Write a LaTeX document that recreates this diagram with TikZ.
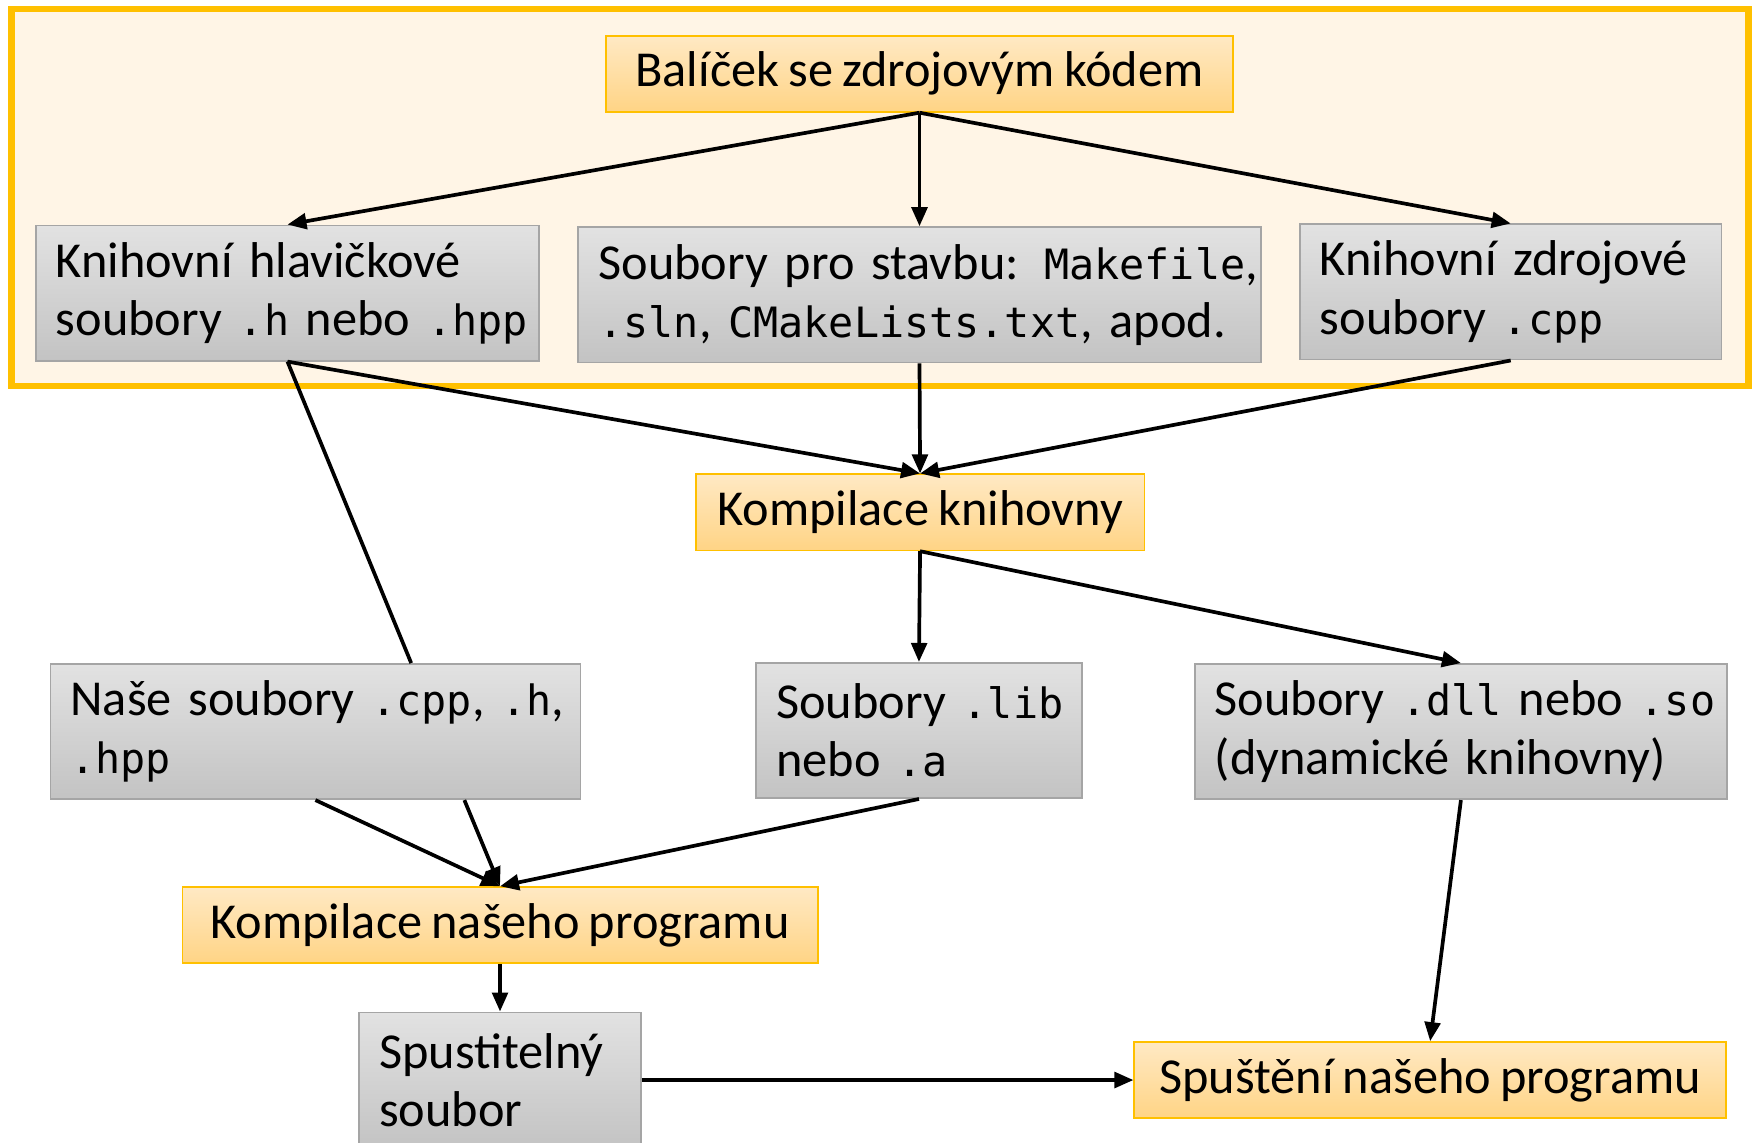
\documentclass[tikz,border=0pt]{standalone}
\usepackage{fontspec}
\setmainfont{Carlito}[WordSpace=0.8]
\setmonofont{DejaVu Sans Mono}[Scale=0.83]
\usepackage{tikz}
\usetikzlibrary{arrows.meta}
\usetikzlibrary{calc}
\definecolor{frameorange}{HTML}{FFC000}
\definecolor{framefill}{HTML}{FFF5E6}
\definecolor{orangetop}{HTML}{FFE9C4}
\definecolor{orangebottom}{HTML}{FFD485}
\definecolor{graytop}{HTML}{E2E2E2}
\definecolor{graybottom}{HTML}{C3C3C3}
\definecolor{grayborder}{HTML}{A5A5A5}
% one unbreakable line of a gray box
\newcommand{\boxline}[1]{\mbox{#1}}

\begin{document}
\begin{tikzpicture}[x=0.1mm,y=-0.1mm,
    box/.style={inner sep=0pt,line width=0.15mm,font=\fontsize{12.8}{14.8}\selectfont},
    orange node/.style={box,draw=frameorange,top color=orangetop,bottom color=orangebottom,align=center,minimum height=6.8mm},
    gray node/.style={box,draw=grayborder,top color=graytop,bottom color=graybottom,align=left,inner xsep=1.8mm,minimum height=12.1mm},
    every edge/.style={draw,line width=0.33mm,-{Triangle[length=1.7mm,width=1.4mm]}}]
    \useasboundingbox (0,0) rectangle (1568,1021);
    \draw[frameorange,line width=0.6mm,fill=framefill] (10,8) rectangle (1563,345);

    \node[orange node,minimum width=56mm] (bal) at (822,66) {Balíček se zdrojovým kódem};
    \node[gray node,text width=41.4mm] (hdr) at (257,262) {\boxline{Knihovní hlavičkové}\\\boxline{soubory \texttt{.h} nebo \texttt{.hpp}}};
    \node[gray node,text width=57.4mm] (build) at (822,263.5) {\boxline{Soubory pro stavbu: \texttt{Makefile},}\\\boxline{\texttt{.sln}, \texttt{CMakeLists.txt}, apod.}};
    \node[gray node,text width=34.1mm] (src) at (1350.5,261) {\boxline{Knihovní zdrojové}\\\boxline{soubory \texttt{.cpp}}};

    \node[orange node,minimum width=40.1mm] (klib) at (822.5,458) {Kompilace knihovny};

    \node[gray node,text width=43.8mm] (our) at (282,654) {\boxline{Naše soubory \texttt{.cpp}, \texttt{.h},}\\\boxline{\texttt{.hpp}}};
    \node[gray node,text width=25.5mm] (lib) at (821.5,653) {\boxline{Soubory \texttt{.lib}}\\\boxline{nebo \texttt{.a}}};
    \node[gray node,text width=44mm] (dll) at (1306,654) {\boxline{Soubory \texttt{.dll} nebo \texttt{.so}}\\\boxline{(dynamické knihovny)}};

    \node[orange node,minimum width=56.8mm] (kprog) at (447,827) {Kompilace našeho programu};
    \node[gray node,text width=21.6mm,minimum height=12.2mm] (exe) at (447,966) {\boxline{Spustitelný}\\\boxline{soubor}};
    \node[orange node,minimum width=52.9mm] (run) at (1278.5,965.5) {Spuštění našeho programu};

    \path
    (bal.south) edge (hdr.north)
    (bal.south) edge (build.north)
    (bal.south) edge (src.north)

    (hdr.south) edge (klib.north)
    (build.south) edge (klib.north)
    (src.south) edge (klib.north)

    (klib.south) edge (lib.north)
    (klib.south) edge (dll.north)

    (our.south) edge (kprog.north)
    ($(our.south west)!0.78!(our.south east)$) edge (kprog.north)
    (lib.south) edge (kprog.north)

    (kprog.south) edge (exe.north)
    (dll.south) edge (run.north)
    (exe.east |- run.west) edge (run.west);

    \draw[line width=0.33mm] (hdr.south) -- ($(our.north west)!0.68!(our.north east)$);
\end{tikzpicture}
\end{document}
